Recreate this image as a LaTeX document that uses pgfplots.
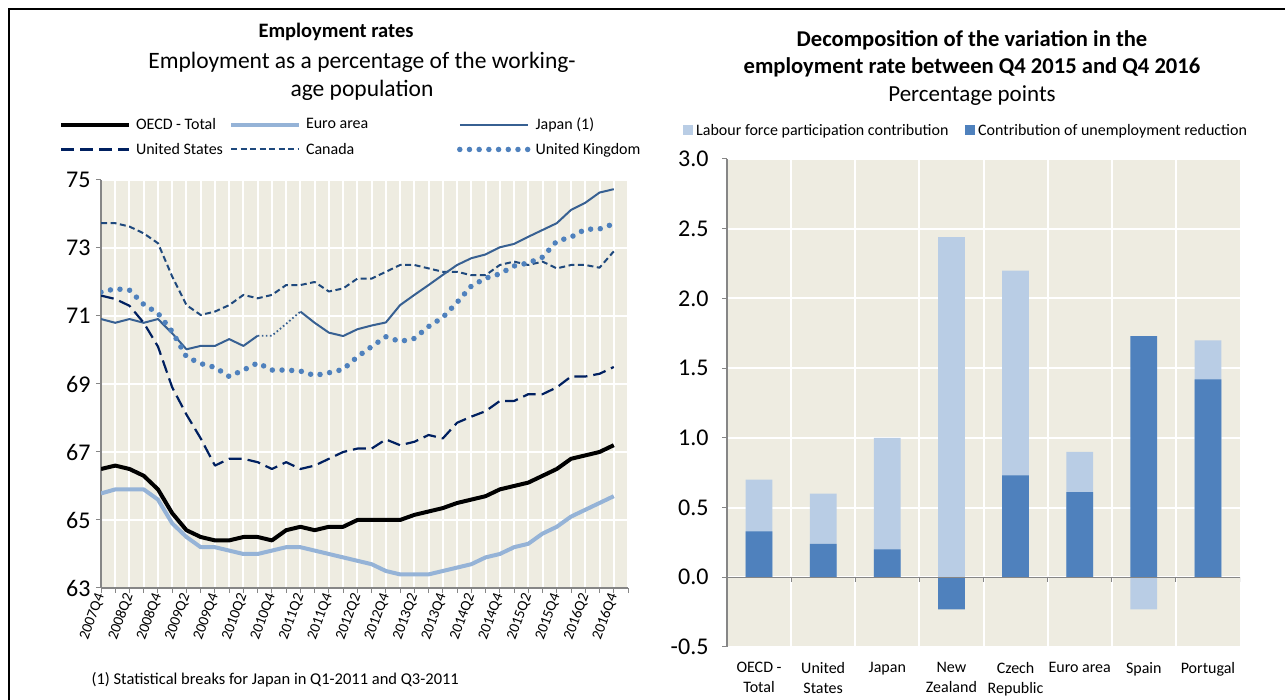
\documentclass[border=0pt]{standalone}
\usepackage{fontspec}
\setmainfont{Carlito}
\usepackage{pgfplots}
\pgfplotsset{compat=1.18}

\definecolor{bg}{RGB}{238,236,225}
\definecolor{axgrey}{RGB}{134,134,134}
\definecolor{euro}{RGB}{149,179,215}
\definecolor{japan}{RGB}{55,96,146}
\definecolor{usa}{RGB}{0,32,96}
\definecolor{canada}{RGB}{31,73,125}
\definecolor{uk}{RGB}{79,129,189}
\definecolor{lfp}{RGB}{185,205,229}
\definecolor{unemp}{RGB}{79,129,189}

\begin{document}
\begin{tikzpicture}[x=1pt,y=1pt]
\useasboundingbox (0,0) rectangle (1285,700);
\draw[line width=2.5pt] (9,0) -- (9,691) -- (1285,691);

% titles
\node[font=\bfseries\fontsize{20.5}{24}\selectfont] at (336,668) {Employment rates};
\node[font=\fontsize{23.5}{28}\selectfont, align=center] at (362,624) {Employment as a percentage of the working-\\age population};
\node[font=\bfseries\fontsize{22.6}{27}\selectfont, align=center] at (972,646) {Decomposition of the variation in the\\employment rate between Q4 2015 and Q4 2016};
\node[font=\fontsize{23}{26}\selectfont] at (972,604) {Percentage points};
\node[anchor=west, font=\fontsize{16.5}{20}\selectfont] at (88,20) {(1) Statistical breaks for Japan in Q1-2011 and Q3-2011};

% left chart: employment rates
\begin{axis}[
  at={(101pt,112pt)}, anchor=south west,
  scale only axis, width=527pt, height=408pt,
  xmin=0, xmax=37, ymin=63, ymax=75,
  axis background/.style={fill=bg},
  axis lines*=left,
  axis line style={axgrey, line width=1.3pt},
  xtick={0,...,37},
  xticklabels={2007Q4,,2008Q2,,2008Q4,,2009Q2,,2009Q4,,2010Q2,,2010Q4,,2011Q2,,2011Q4,,2012Q2,,2012Q4,,2013Q2,,2013Q4,,2014Q2,,2014Q4,,2015Q2,,2015Q4,,2016Q2,,2016Q4,,},
  ytick={63,65,...,75},
  grid=major,
  major grid style={white, line width=2pt},
  tick align=outside, major tick length=5pt,
  tick style={axgrey, line width=1pt},
  xticklabel style={rotate=70, anchor=east, font=\fontsize{15}{18}\selectfont, inner sep=1pt},
  yticklabel style={font=\fontsize{24}{28}\selectfont, xshift=-2pt},
  /pgf/number format/assume math mode=true,
  legend columns=3,
  legend cell align=left,
  legend image code/.code={\draw[#1] (0pt,0pt) -- (68pt,0pt);},
  legend style={draw=none, fill=none, at={(axis description cs:-0.08,1.155)}, anchor=north west,
    font=\fontsize{16}{19}\selectfont, inner sep=0pt, row sep=10pt,
    nodes={inner xsep=5pt, inner ysep=1pt}},
  every axis plot/.append style={line join=round},
]
\addplot[black, line width=4pt] coordinates {
 (0,66.5)(1,66.6)(2,66.5)(3,66.3)(4,65.9)(5,65.2)(6,64.7)(7,64.5)(8,64.4)(9,64.4)
 (10,64.5)(11,64.5)(12,64.4)(13,64.7)(14,64.8)(15,64.7)(16,64.8)(17,64.8)(18,65.0)(19,65.0)
 (20,65.0)(21,65.0)(22,65.15)(23,65.25)(24,65.35)(25,65.5)(26,65.6)(27,65.7)(28,65.9)(29,66.0)
 (30,66.1)(31,66.3)(32,66.5)(33,66.8)(34,66.9)(35,67.0)(36,67.2)};
\addlegendentry{\makebox[88pt][l]{OECD - Total}}
\addplot[euro, line width=4pt] coordinates {
 (0,65.78)(1,65.9)(2,65.9)(3,65.9)(4,65.6)(5,64.9)(6,64.5)(7,64.2)(8,64.2)(9,64.1)
 (10,64.0)(11,64.0)(12,64.1)(13,64.2)(14,64.2)(15,64.1)(16,64.0)(17,63.9)(18,63.8)(19,63.7)
 (20,63.5)(21,63.4)(22,63.4)(23,63.4)(24,63.5)(25,63.6)(26,63.7)(27,63.9)(28,64.0)(29,64.2)
 (30,64.3)(31,64.6)(32,64.8)(33,65.1)(34,65.3)(35,65.5)(36,65.7)};
\addlegendentry{\makebox[146pt][l]{Euro area}}
\addplot[japan, line width=2pt] coordinates {
 (0,70.91)(1,70.8)(2,70.91)(3,70.8)(4,70.91)(5,70.49)(6,70.02)(7,70.12)(8,70.12)(9,70.32)
 (10,70.12)(11,70.42)};
\addlegendentry{Japan (1)}
\addplot[usa, line width=2.2pt, dash pattern=on 13pt off 6pt] coordinates {
 (0,71.6)(1,71.5)(2,71.3)(3,70.8)(4,70.1)(5,68.9)(6,68.1)(7,67.4)(8,66.6)(9,66.8)
 (10,66.8)(11,66.7)(12,66.5)(13,66.7)(14,66.5)(15,66.6)(16,66.8)(17,67.0)(18,67.1)(19,67.1)
 (20,67.37)(21,67.2)(22,67.3)(23,67.5)(24,67.4)(25,67.86)(26,68.04)(27,68.2)(28,68.5)(29,68.5)
 (30,68.7)(31,68.7)(32,68.9)(33,69.22)(34,69.22)(35,69.3)(36,69.5)};
\addlegendentry{\makebox[88pt][l]{United States}}
\addplot[canada, line width=2pt, dash pattern=on 6pt off 3.5pt] coordinates {
 (0,73.73)(1,73.73)(2,73.63)(3,73.43)(4,73.14)(5,72.16)(6,71.32)(7,71.03)(8,71.13)(9,71.32)
 (10,71.62)(11,71.52)(12,71.62)(13,71.91)(14,71.91)(15,72.0)(16,71.72)(17,71.81)(18,72.1)(19,72.1)
 (20,72.3)(21,72.5)(22,72.5)(23,72.4)(24,72.3)(25,72.3)(26,72.2)(27,72.2)(28,72.5)(29,72.6)
 (30,72.5)(31,72.6)(32,72.4)(33,72.5)(34,72.5)(35,72.42)(36,72.9)};
\addlegendentry{\makebox[146pt][l]{Canada}}
\addplot[uk, line width=5.5pt, line cap=round, dash pattern=on 0pt off 9.7pt] coordinates {
 (0,71.7)(1,71.8)(2,71.76)(3,71.34)(4,71.08)(5,70.54)(6,69.8)(7,69.6)(8,69.49)(9,69.22)
 (10,69.41)(11,69.62)(12,69.41)(13,69.41)(14,69.38)(15,69.25)(16,69.33)(17,69.43)(18,69.8)(19,70.1)
 (20,70.39)(21,70.25)(22,70.34)(23,70.69)(24,70.96)(25,71.4)(26,71.88)(27,72.11)(28,72.24)(29,72.47)
 (30,72.56)(31,72.73)(32,73.2)(33,73.32)(34,73.55)(35,73.56)(36,73.71)};
\addlegendentry{United Kingdom}
% Japan after the statistical breaks, and the bridged quarters
\addplot[japan, line width=2pt, forget plot] coordinates {
 (14,71.13)(15,70.8)(16,70.51)(17,70.41)(18,70.61)(19,70.72)
 (20,70.81)(21,71.32)(22,71.62)(23,71.91)(24,72.21)(25,72.5)(26,72.7)(27,72.81)(28,73.02)(29,73.12)
 (30,73.33)(31,73.53)(32,73.73)(33,74.12)(34,74.33)(35,74.63)(36,74.73)};
\addplot[japan, line width=1.8pt, dash pattern=on 1.6pt off 2.5pt, forget plot] coordinates {
 (11,70.42)(12,70.42)(13,70.77)(14,71.13)};
\end{axis}

% right chart: decomposition
\begin{axis}[
  at={(727pt,53pt)}, anchor=south west,
  scale only axis, width=513pt, height=488pt,
  xmin=0.5, xmax=8.5, ymin=-0.5, ymax=3,
  ybar, bar width=26.8pt,
  axis background/.style={fill=bg},
  axis y line*=left, axis x line*=bottom,
  x axis line style={draw=none},
  y axis line style={axgrey, line width=1.3pt},
  xtick={1,...,8},
  xticklabels={{OECD -\\Total},{United\\States},Japan,{New\\Zealand},{Czech\\Republic},Euro area,Spain,Portugal},
  minor xtick={1.5,2.5,...,7.5},
  xtick style={draw=none},
  minor tick length=0pt,
  xminorgrids=true, ymajorgrids=true,
  minor x grid style={white, line width=2pt},
  major y grid style={white, line width=2pt},
  ytick={-0.5,0,0.5,1,1.5,2,2.5,3},
  yticklabels={-0.5,0.0,0.5,1.0,1.5,2.0,2.5,3.0},
  tick align=outside, major tick length=5pt,
  ytick style={axgrey, line width=1pt},
  xticklabel style={align=center, font=\fontsize{16}{20}\selectfont, yshift=-7pt},
  yticklabel style={font=\fontsize{24}{28}\selectfont, xshift=-10pt},
  legend columns=2,
  legend image code/.code={\fill[#1] (0pt,-5pt) rectangle (10pt,5pt);},
  legend style={draw=none, fill=none, at={(axis description cs:-0.0858,1.074)}, anchor=north west,
    font=\fontsize{16}{19}\selectfont, inner sep=0pt,
    nodes={inner xsep=3pt, inner ysep=1pt}},
]
\addplot[fill=lfp, draw=none, bar shift=0pt] coordinates {
 (1,0.70)(2,0.60)(3,1.00)(4,2.44)(5,2.20)(6,0.90)(7,-0.23)(8,1.70)};
\addlegendentry{\makebox[266pt][l]{Labour force participation contribution}}
\addplot[fill=unemp, draw=none, bar shift=0pt] coordinates {
 (1,0.33)(2,0.24)(3,0.20)(4,-0.23)(5,0.73)(6,0.61)(7,1.73)(8,1.42)};
\addlegendentry{Contribution of unemployment reduction}
\draw[axgrey, line width=1.3pt] (axis cs:0.5,0) -- (axis cs:8.5,0);
\pgfplotsinvokeforeach{0.5,1.5,...,8.5}{\draw[axgrey, line width=1pt] (axis cs:#1,0) -- ++(0pt,-5pt);}
\end{axis}
\end{tikzpicture}
\end{document}
